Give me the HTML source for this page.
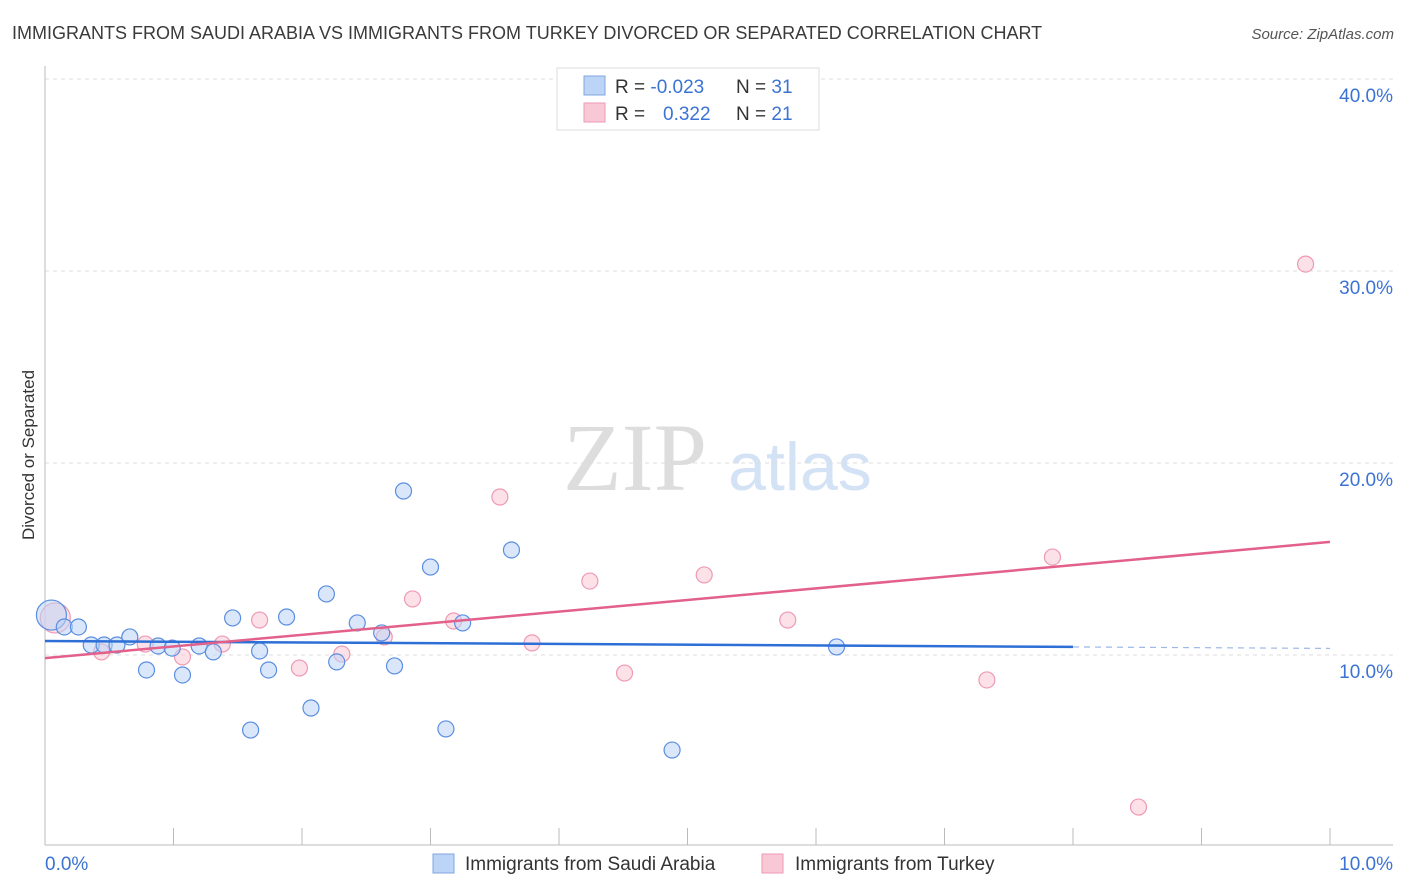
<!DOCTYPE html>
<html><head><meta charset="utf-8"><style>
body{margin:0;background:#fff;font-family:"Liberation Sans",sans-serif}
#c{position:absolute;left:0;top:0}
</style></head><body>
<svg id="c" width="1406" height="892" xmlns="http://www.w3.org/2000/svg">
<text x="12" y="39" font-size="18" fill="#3a3a3a">IMMIGRANTS FROM SAUDI ARABIA VS IMMIGRANTS FROM TURKEY DIVORCED OR SEPARATED CORRELATION CHART</text>
<text x="1394" y="39" font-size="15" fill="#555" text-anchor="end" font-style="italic">Source: ZipAtlas.com</text>
<text x="34" y="455" font-size="17" fill="#333" text-anchor="middle" transform="rotate(-90 34 455)">Divorced or Separated</text>
<g><text x="635" y="490" font-size="96" fill="#ddd" text-anchor="middle" font-family="Liberation Serif,serif">ZIP</text><text x="800" y="490" font-size="68" fill="#d4e2f5" text-anchor="middle">atlas</text></g>
<g id="grid"></g><g id="axes"></g><g id="marks"></g>
<g>
<rect x="557" y="68" width="262" height="62" fill="#fff" stroke="#ddd"/>
<rect x="584" y="76" width="21" height="19" fill="#bcd4f5" stroke="#7fa6e0"/>
<rect x="584" y="103" width="21" height="19" fill="#f9c8d6" stroke="#ee9ab4"/>
<text x="615" y="93" font-size="19" fill="#333">R = <tspan fill="#3b73d4">-0.023</tspan><tspan x="736">N = </tspan><tspan fill="#3b73d4">31</tspan></text>
<text x="615" y="120" font-size="19" fill="#333">R = <tspan x="663" fill="#3b73d4">0.322</tspan><tspan x="736">N = </tspan><tspan fill="#3b73d4">21</tspan></text>
</g>
<g>
<rect x="433" y="854" width="21" height="19" fill="#bcd4f5" stroke="#7fa6e0"/>
<text x="465" y="870" font-size="19" fill="#333">Immigrants from Saudi Arabia</text>
<rect x="762" y="854" width="21" height="19" fill="#f9c8d6" stroke="#ee9ab4"/>
<text x="795" y="870" font-size="19" fill="#333">Immigrants from Turkey</text>
</g>
</svg>
<script>
const blueX=[0.05,0.15,0.26,0.36,0.46,0.56,0.66,0.79,0.88,0.99,1.07,1.20,1.31,1.46,1.60,1.67,1.74,1.88,2.07,2.19,2.27,2.43,2.62,2.72,2.79,3.00,3.12,3.25,3.63,4.88,6.16];
const blueY=[12.08,11.46,11.46,10.52,10.52,10.52,10.94,9.22,10.47,10.36,8.96,10.47,10.16,11.93,6.09,10.21,9.22,11.98,7.24,13.18,9.64,11.67,11.15,9.43,18.54,14.58,6.15,11.67,15.47,5.05,10.42];
const pinkX=[0.08,0.44,0.78,1.07,1.38,1.67,1.98,2.31,2.64,2.86,3.18,3.54,3.79,4.24,4.51,5.13,5.78,7.33,7.84,8.51,9.81];
const pinkY=[11.93,10.16,10.57,9.90,10.57,11.82,9.32,10.05,10.94,12.92,11.77,18.23,10.63,13.85,9.06,14.17,11.82,8.70,15.10,2.08,30.36];
const yTicks=[10,20,30,40];
const yTickLabels=["10.0%","20.0%","30.0%","40.0%"];
const blueTrend=[10.73,10.42,8.0];
const pinkTrend=[9.84,15.89];
const NS="http://www.w3.org/2000/svg";
const X=v=>45+v*128.5, Y=v=>655-(v-10)*19.2;
function mk(t,a,p){const e=document.createElementNS(NS,t);for(const k in a)e.setAttribute(k,a[k]);p.appendChild(e);return e;}
const grid=document.getElementById('grid'),axes=document.getElementById('axes'),marks=document.getElementById('marks');
yTicks.forEach((t,i)=>{
 const l=mk('line',{x1:45,x2:1393,y1:Y(t),y2:Y(t),stroke:'#ddd','stroke-dasharray':'4,4'},grid);
 
 
 const tx=mk('text',{x:1393,y:Y(t)+23,'font-size':19,fill:'#3b73d4','text-anchor':'end'},axes);
 tx.textContent=yTickLabels[i];
 
 
});
const ya=mk('line',{x1:45,x2:45,y1:66,y2:845,stroke:'#bbb'},axes);


const xa=mk('line',{x1:45,x2:1393,y1:845,y2:845,stroke:'#bbb'},axes);


for(let i=1;i<=10;i++){const t=mk('line',{x1:X(i),x2:X(i),y1:828,y2:845,stroke:'#bbb'},axes);
 
 }
const x0=mk('text',{x:45,y:870,'font-size':19,fill:'#3b73d4'},axes);x0.textContent='0.0%';


const x1=mk('text',{x:1393,y:870,'font-size':19,fill:'#3b73d4','text-anchor':'end'},axes);x1.textContent='10.0%';


function pts(xs,ys,fill,stroke,name){xs.forEach((x,i)=>{const c=mk('circle',{cx:X(x),cy:Y(ys[i]),r:i===0?15:8,fill:fill,'fill-opacity':0.55,stroke:stroke,'stroke-width':1.2},marks);
 
 });}
pts(pinkX,pinkY,'#f9c8d6','#ee9ab4','point-turkey');
pts(blueX,blueY,'#bcd4f5','#5a8ee0','point-saudi-arabia');
const bl=mk('line',{x1:X(0),y1:Y(blueTrend[0]),x2:X(blueTrend[2]),y2:Y(blueTrend[1]),stroke:'#2d6fd6','stroke-width':2.5},marks);


const slope=(blueTrend[1]-blueTrend[0])/blueTrend[2];
const bd=mk('line',{x1:X(blueTrend[2]),y1:Y(blueTrend[1]),x2:X(10),y2:Y(blueTrend[0]+slope*10),stroke:'#9bb8e6','stroke-width':1.2,'stroke-dasharray':'6,5'},marks);


const pl=mk('line',{x1:X(0),y1:Y(pinkTrend[0]),x2:X(10),y2:Y(pinkTrend[1]),stroke:'#e2608a','stroke-width':2.5},marks);


</script>
</body></html>
